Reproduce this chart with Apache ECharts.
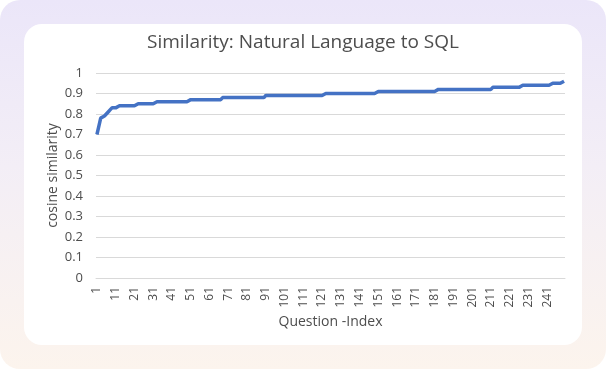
<!DOCTYPE html>
<html>
<head>
<meta charset="utf-8">
<script src="https://cdn.jsdelivr.net/npm/echarts@6/dist/echarts.min.js"></script>
<style>
html,body{margin:0;padding:0;width:606px;height:369px;background:#ffffff;overflow:hidden;}
#bg{position:absolute;left:0;top:0;width:606px;height:369px;border-radius:20px;
background:linear-gradient(180deg,#ebe6f9 0%,#f3eef6 45%,#fcf4ed 100%);}
#card{position:absolute;left:24px;top:24px;width:558px;height:321px;border-radius:18px;background:#ffffff;}
#chart{position:absolute;left:0;top:0;width:606px;height:369px;}
</style>
</head>
<body>
<div id="bg"></div>
<div id="card"></div>
<div id="chart"></div>
<script>
// Chart data
var titleText = 'Similarity: Natural Language to SQL';
var yName = 'cosine similarity';
var xName = 'Question -Index';
var yTicks = [0, 0.1, 0.2, 0.3, 0.4, 0.5, 0.6, 0.7, 0.8, 0.9, 1];
var similarity = [
0.70,0.74,0.78,0.78,0.79,0.80,0.81,0.82,0.83,0.83,
0.83,0.83,0.84,0.84,0.84,0.84,0.84,0.84,0.84,0.84,
0.84,0.84,0.85,0.85,0.85,0.85,0.85,0.85,0.85,0.85,
0.85,0.85,0.86,0.86,0.86,0.86,0.86,0.86,0.86,0.86,
0.86,0.86,0.86,0.86,0.86,0.86,0.86,0.86,0.86,0.86,
0.87,0.87,0.87,0.87,0.87,0.87,0.87,0.87,0.87,0.87,
0.87,0.87,0.87,0.87,0.87,0.87,0.87,0.88,0.88,0.88,
0.88,0.88,0.88,0.88,0.88,0.88,0.88,0.88,0.88,0.88,
0.88,0.88,0.88,0.88,0.88,0.88,0.88,0.88,0.88,0.88,
0.89,0.89,0.89,0.89,0.89,0.89,0.89,0.89,0.89,0.89,
0.89,0.89,0.89,0.89,0.89,0.89,0.89,0.89,0.89,0.89,
0.89,0.89,0.89,0.89,0.89,0.89,0.89,0.89,0.89,0.89,
0.89,0.89,0.90,0.90,0.90,0.90,0.90,0.90,0.90,0.90,
0.90,0.90,0.90,0.90,0.90,0.90,0.90,0.90,0.90,0.90,
0.90,0.90,0.90,0.90,0.90,0.90,0.90,0.90,0.90,0.90,
0.91,0.91,0.91,0.91,0.91,0.91,0.91,0.91,0.91,0.91,
0.91,0.91,0.91,0.91,0.91,0.91,0.91,0.91,0.91,0.91,
0.91,0.91,0.91,0.91,0.91,0.91,0.91,0.91,0.91,0.91,
0.91,0.91,0.92,0.92,0.92,0.92,0.92,0.92,0.92,0.92,
0.92,0.92,0.92,0.92,0.92,0.92,0.92,0.92,0.92,0.92,
0.92,0.92,0.92,0.92,0.92,0.92,0.92,0.92,0.92,0.92,
0.92,0.93,0.93,0.93,0.93,0.93,0.93,0.93,0.93,0.93,
0.93,0.93,0.93,0.93,0.93,0.93,0.93,0.94,0.94,0.94,
0.94,0.94,0.94,0.94,0.94,0.94,0.94,0.94,0.94,0.94,
0.94,0.94,0.94,0.95,0.95,0.95,0.95,0.95,0.95,0.96
];
var questionIndex = [];
for (var i = 0; i < similarity.length; i++) questionIndex.push(String(i + 1));

var font = "'Open Sans', 'Noto Sans', sans-serif";
var txt = '#4d4d4d';
var chart = echarts.init(document.getElementById('chart'), null, {renderer: 'canvas'});
chart.setOption({
  backgroundColor: 'transparent',
  animation: false,
  title: {
    text: titleText, left: 'center', top: 28,
    textStyle: {fontFamily: font, fontSize: 19, fontWeight: 'normal', color: txt}
  },
  grid: {left: 96, right: 41, top: 73, bottom: 91, containLabel: false},
  xAxis: {
    type: 'category', data: questionIndex, boundaryGap: true,
    name: xName, nameLocation: 'middle', nameGap: 36,
    nameTextStyle: {fontFamily: font, fontSize: 14, color: txt},
    axisLine: {show: true, lineStyle: {color: '#d9d9d9', width: 1}},
    axisTick: {show: false},
    axisLabel: {interval: 9, rotate: 90, margin: 9, fontFamily: font, fontSize: 12, color: txt},
    splitLine: {show: false}
  },
  yAxis: {
    type: 'value', min: 0, max: 1, interval: 0.1,
    name: yName, nameLocation: 'middle', nameGap: 36, nameRotate: 90,
    nameMoveOverlap: false,
    nameTextStyle: {fontFamily: font, fontSize: 14, color: txt},
    axisLine: {show: false}, axisTick: {show: false},
    axisLabel: {margin: 13, fontFamily: font, fontSize: 13, color: txt,
      formatter: function (v) { return String(Math.round(v * 10) / 10); }},
    splitLine: {lineStyle: {color: '#d9d9d9', width: 1}}
  },
  series: [{
    type: 'line', data: similarity, showSymbol: false, symbol: 'none',
    lineStyle: {color: '#4472c4', width: 3.5}, itemStyle: {color: '#4472c4'}
  }]
});
</script>
</body>
</html>
